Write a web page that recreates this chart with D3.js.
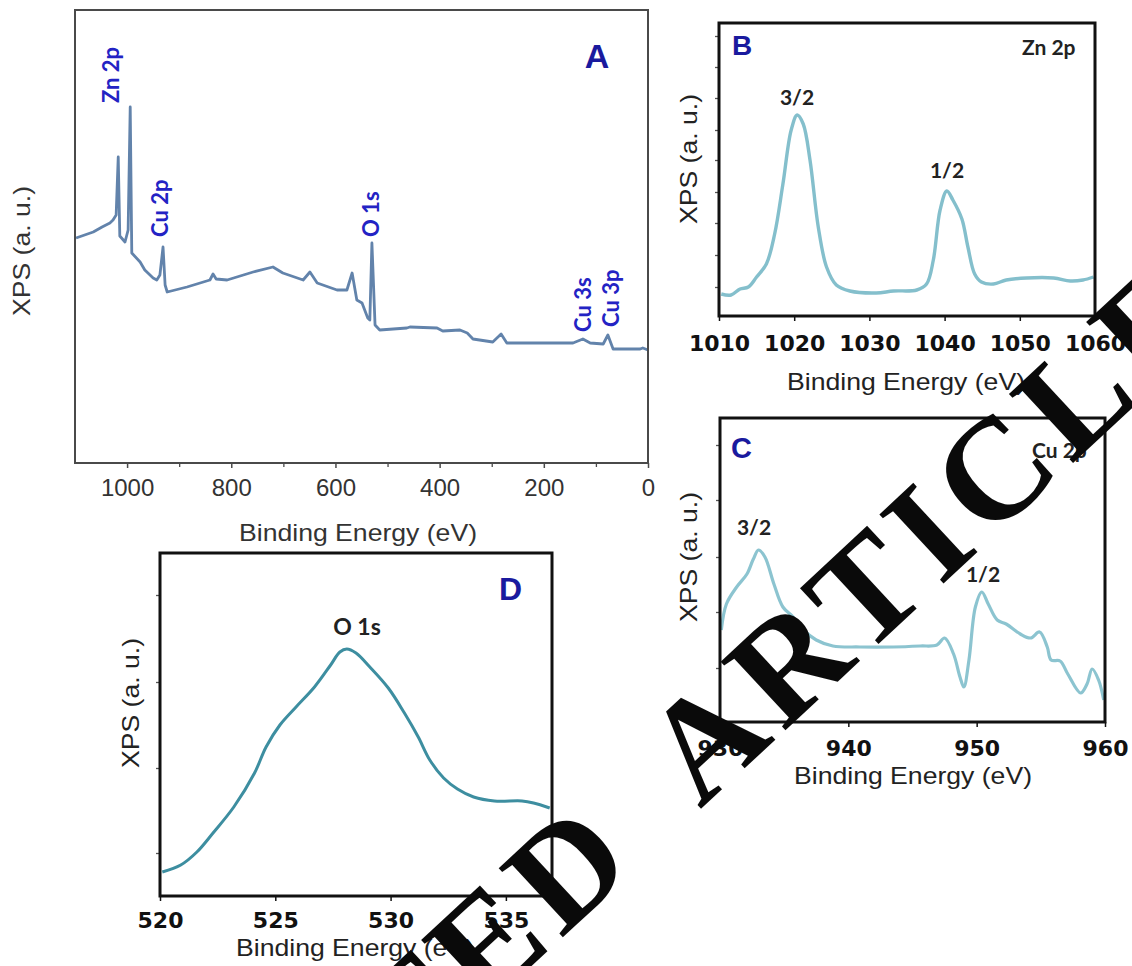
<!DOCTYPE html>
<html><head><meta charset="utf-8">
<script src="https://cdn.jsdelivr.net/npm/d3@7/dist/d3.min.js"></script>
<style>body{margin:0;background:#fff} svg{display:block}</style>
</head><body>
<svg id="chart" width="1132" height="966"></svg>
<script>
// ---------- Panel A : survey spectrum ----------
const aEnergy = [1098,1065,1048,1033,1027,1021,1017,1014,1004,998,994,991,975,966,950,943,937,931,927,923,885,841,835,829,808,758,720,701,662,649,635,597,578,568,559,549,538,534,530,524,515,463,457,405,394,361,347,336,298,282,271,207,144,125,111,86,77,67,15,10,0];
const aIntensity = [225,231,236,240,243,248,306,227,221,233,356,210,201,193,185,183,188,216,178,171,176,183,189,184,183,191,196,190,183,191,180,173,173,190,163,160,145,143,220,138,133,135,136,135,132,133,130,124,121,129,120,120,120,124,120,119,128,114,114,115,113];
const aXTicks = [1000,800,600,400,200,0];
const aXTickLabels = ["1000","800","600","400","200","0"];
const aXMinor = [900,700,500,300,100];
const aXDomain = [1100,0];
const aYDomain = [0,453];
const aPeakLabels = ["Zn 2p","Cu 2p","O 1s","Cu 3s","Cu 3p"];

// ---------- Panel B : Zn 2p ----------
const bEnergy = [1010.3,1011.6,1012.8,1013.9,1015.0,1016.3,1017.4,1018.5,1019.6,1020.4,1021.2,1022.1,1023.2,1024.3,1025.6,1027.4,1030.9,1033.2,1036.3,1037.6,1038.5,1039.4,1040.3,1041.1,1042.3,1043.1,1044.0,1044.9,1046.5,1048.2,1050.9,1054.5,1056.7,1058.4,1059.8];
const bIntensity = [22,21,27,29,39,52,82,132,186,201,192,156,89,49,31,25,23,25,26,32,56,106,125,116,97,69,42,34,32,36,38,38,35,36,39];
const bXTicks = [1010,1020,1030,1040,1050,1060];
const bXTickLabels = ["1010","1020","1030","1040","1050","1060"];
const bXDomain = [1010,1060];
const bYDomain = [0,293];
const bYTicks = [29,61,93,124,156,186,218,249,280];

// ---------- Panel C : Cu 2p ----------
const cEnergy = [930.1,930.5,931.3,932.1,932.6,933.0,933.5,934.2,934.9,935.7,936.5,937.5,938.8,940.9,943.5,945.6,946.9,947.5,948.2,948.7,949.0,949.4,949.9,950.4,950.9,951.6,952.3,953.4,954.2,954.9,955.5,955.8,956.5,957.1,958.1,958.6,959.0,959.5,959.9];
const cIntensity = [92,118,135,148,163,172,165,138,115,105,92,82,76,75,75,76,77,84,68,45,35,62,115,130,118,102,98,88,84,90,75,62,61,48,29,38,53,42,22];
const cXTicks = [930,940,950,960];
const cXTickLabels = ["930","940","950","960"];
const cXDomain = [930,960];
const cYDomain = [0,304];
const cYTicks = [54,110,165,222,277];

// ---------- Panel D : O 1s ----------
const dEnergy = [520.1,520.9,521.6,522.3,523.2,524.1,524.6,525.2,525.9,526.7,527.4,527.8,528.1,528.5,529.1,529.9,530.6,531.2,531.7,532.3,532.9,533.6,534.5,535.7,536.2,536.9];
const dIntensity = [24,31,44,63,89,123,149,171,189,209,231,244,247,243,229,208,183,159,136,118,107,99,95,95,93,88];
const dXTicks = [520,525,530,535];
const dXTickLabels = ["520","525","530","535"];
const dXDomain = [520,537];
const dYDomain = [0,343];
const dYTicks = [43,128,214,301];

const xTitle = "Binding Energy (eV)";
const yTitle = "XPS (a. u.)";
const watermark = "RETRACTED ARTICLE";

const svg = d3.select("#chart");
const defs = svg.append("defs");
const SANS = "'Liberation Sans', Arial, sans-serif";
const BOLDNUM = "'DejaVu Sans', Verdana, sans-serif";
const CAL = "Lato, 'Open Sans', sans-serif";

function panel(p) {
  const g = svg.append("g");
  const x = d3.scaleLinear().domain(p.xDomain).range([p.left, p.left + p.width]);
  const y = d3.scaleLinear().domain(p.yDomain).range([p.top + p.height, p.top]);
  const id = "clip" + p.name;
  defs.append("clipPath").attr("id", id).append("rect")
    .attr("x", p.left).attr("y", p.top).attr("width", p.width).attr("height", p.height);

  const data = p.energy.map((e, i) => [e, p.intensity[i]]);
  g.append("path").datum(data)
    .attr("clip-path", `url(#${id})`)
    .attr("fill", "none").attr("stroke", p.lineColor).attr("stroke-width", p.lineWidth)
    .attr("stroke-linejoin", "round")
    .attr("d", d3.line().x(d => x(d[0])).y(d => y(d[1])).curve(p.curve));

  const xa = g.append("g").attr("transform", `translate(0,${p.top + p.height})`)
    .call(d3.axisBottom(x).tickValues(p.xTicks).tickFormat((d, i) => p.xTickLabels[i])
      .tickSize(5).tickPadding(p.labelGap - 5));
  xa.select(".domain").remove();
  xa.selectAll("line").attr("stroke", p.frameColor).attr("stroke-width", 1.5);
  xa.selectAll("text").attr("font-family", p.tickFont).attr("font-size", p.tickSize)
    .attr("font-weight", p.tickWeight).attr("fill", p.tickColor);
  if (p.xMinor) {
    const xm = g.append("g").attr("transform", `translate(0,${p.top + p.height})`)
      .call(d3.axisBottom(x).tickValues(p.xMinor).tickFormat("").tickSize(4));
    xm.select(".domain").remove();
    xm.selectAll("line").attr("stroke", p.frameColor).attr("stroke-width", 1.3);
  }
  if (p.yTicks) {
    const ya = g.append("g").attr("transform", `translate(${p.left},0)`)
      .call(d3.axisLeft(y).tickValues(p.yTicks).tickFormat("").tickSize(4));
    ya.select(".domain").remove();
    ya.selectAll("line").attr("stroke", "#555").attr("stroke-width", 1.3);
  }
  g.append("rect").attr("x", p.left).attr("y", p.top).attr("width", p.width).attr("height", p.height)
    .attr("fill", "none").attr("stroke", p.frameColor).attr("stroke-width", p.frameWidth);

  g.append("text").text(xTitle).attr("x", p.xTitle[0]).attr("y", p.xTitle[1])
    .attr("text-anchor", "middle").attr("font-family", SANS).attr("font-size", 24)
    .attr("textLength", 238).attr("lengthAdjust", "spacingAndGlyphs").attr("fill", p.titleColor);
  g.append("text").text(yTitle)
    .attr("transform", `translate(${p.yTitle[0]},${p.yTitle[1]}) rotate(-90)`)
    .attr("text-anchor", "middle").attr("font-family", SANS).attr("font-size", 24)
    .attr("textLength", 130).attr("lengthAdjust", "spacingAndGlyphs").attr("fill", p.titleColor);
  return { g, x, y };
}

// Panel A
const A = panel({ name: "A", left: 75, top: 10, width: 573, height: 453,
  xDomain: aXDomain, yDomain: aYDomain, energy: aEnergy, intensity: aIntensity,
  xTicks: aXTicks, xTickLabels: aXTickLabels, xMinor: aXMinor,
  lineColor: "#6283ab", lineWidth: 2.8, curve: d3.curveLinear,
  frameColor: "#4a4a4a", frameWidth: 2, labelGap: 16,
  tickFont: SANS, tickSize: 24, tickWeight: "normal", tickColor: "#333",
  xTitle: [358, 541], yTitle: [30, 251], titleColor: "#333" });
const aLabelPos = [[119,103],[168,237],[379,237],[591,332],[619,327]];
aPeakLabels.forEach((t, i) => {
  A.g.append("text").text(t)
    .attr("transform", `translate(${aLabelPos[i][0]},${aLabelPos[i][1]}) rotate(-90)`)
    .attr("font-family", CAL).attr("font-weight", 700).attr("font-size", 22).attr("fill", "#2323c4");
});
A.g.append("text").text("A").attr("x", 597).attr("y", 68).attr("text-anchor", "middle")
  .attr("font-family", SANS).attr("font-weight", 700).attr("font-size", 34).attr("fill", "#1a1a9e");

// Panel B
const B = panel({ name: "B", left: 719, top: 23, width: 376, height: 293,
  xDomain: bXDomain, yDomain: bYDomain, energy: bEnergy, intensity: bIntensity,
  xTicks: bXTicks, xTickLabels: bXTickLabels, yTicks: bYTicks,
  lineColor: "#84bfcc", lineWidth: 3.4, curve: d3.curveCatmullRom.alpha(0.5),
  frameColor: "#111", frameWidth: 3, labelGap: 19,
  tickFont: BOLDNUM, tickSize: 22, tickWeight: 700, tickColor: "#111",
  xTitle: [906, 390], yTitle: [697, 159], titleColor: "#222" });
B.g.append("text").text("B").attr("x", 732).attr("y", 55)
  .attr("font-family", SANS).attr("font-weight", 700).attr("font-size", 28).attr("fill", "#1a1a9e");
B.g.append("text").text("Zn 2p").attr("x", 1022).attr("y", 55)
  .attr("font-family", CAL).attr("font-weight", 700).attr("font-size", 21).attr("fill", "#222");
B.g.append("text").text("3/2").attr("x", 797).attr("y", 105).attr("text-anchor", "middle")
  .attr("font-family", CAL).attr("font-weight", 700).attr("font-size", 21).attr("fill", "#222");
B.g.append("text").text("1/2").attr("x", 947).attr("y", 178).attr("text-anchor", "middle")
  .attr("font-family", CAL).attr("font-weight", 700).attr("font-size", 21).attr("fill", "#222");

// Panel C
const C = panel({ name: "C", left: 720, top: 418, width: 385, height: 304,
  xDomain: cXDomain, yDomain: cYDomain, energy: cEnergy, intensity: cIntensity,
  xTicks: cXTicks, xTickLabels: cXTickLabels, yTicks: cYTicks,
  lineColor: "#8cc4d0", lineWidth: 3.2, curve: d3.curveCatmullRom.alpha(0.5),
  frameColor: "#111", frameWidth: 3, labelGap: 18,
  tickFont: BOLDNUM, tickSize: 22, tickWeight: 700, tickColor: "#111",
  xTitle: [913, 784], yTitle: [697, 557], titleColor: "#222" });
C.g.append("text").text("C").attr("x", 731).attr("y", 458)
  .attr("font-family", SANS).attr("font-weight", 700).attr("font-size", 29).attr("fill", "#1a1a9e");
C.g.append("text").text("Cu 2p").attr("x", 1032).attr("y", 458)
  .attr("font-family", CAL).attr("font-weight", 700).attr("font-size", 21).attr("fill", "#222");
C.g.append("text").text("3/2").attr("x", 754).attr("y", 535).attr("text-anchor", "middle")
  .attr("font-family", CAL).attr("font-weight", 700).attr("font-size", 21).attr("fill", "#222");
C.g.append("text").text("1/2").attr("x", 983).attr("y", 582).attr("text-anchor", "middle")
  .attr("font-family", CAL).attr("font-weight", 700).attr("font-size", 21).attr("fill", "#222");

// Panel D
const D = panel({ name: "D", left: 160, top: 553, width: 392, height: 343,
  xDomain: dXDomain, yDomain: dYDomain, energy: dEnergy, intensity: dIntensity,
  xTicks: dXTicks, xTickLabels: dXTickLabels, yTicks: dYTicks,
  lineColor: "#3d8ea0", lineWidth: 3, curve: d3.curveCatmullRom.alpha(0.5),
  frameColor: "#111", frameWidth: 3, labelGap: 16,
  tickFont: BOLDNUM, tickSize: 22, tickWeight: 700, tickColor: "#111",
  xTitle: [355, 956], yTitle: [139, 703], titleColor: "#222" });
D.g.append("text").text("D").attr("x", 499).attr("y", 600)
  .attr("font-family", SANS).attr("font-weight", 700).attr("font-size", 32).attr("fill", "#1a1a9e");
D.g.append("text").text("O 1s").attr("x", 357).attr("y", 635).attr("text-anchor", "middle")
  .attr("font-family", CAL).attr("font-weight", 700).attr("font-size", 23).attr("fill", "#222");

// Watermark: fit the line so that two glyph centres land on their places in the picture
const fs = 150;
const wm = svg.append("text").text(watermark)
  .attr("font-family", "'Liberation Serif', 'Times New Roman', serif")
  .attr("font-weight", 700).attr("font-size", fs).attr("fill", "#0a0a0a")
  .attr("letter-spacing", 10).attr("word-spacing", 40);
const node = wm.node();
function centre(k) { const e = node.getExtentOfChar(k); return [e.x + e.width / 2, -0.33 * fs]; }
const p1 = centre(7), p2 = centre(16);
const t1 = [490, 940], t2 = [1155, 322];
const ang = Math.atan2(t2[1] - t1[1], t2[0] - t1[0]);
const s = Math.hypot(t2[0] - t1[0], t2[1] - t1[1]) / (p2[0] - p1[0]);
const c = Math.cos(ang), sn = Math.sin(ang);
const tx = t1[0] - s * (c * p1[0] - sn * p1[1]);
const ty = t1[1] - s * (sn * p1[0] + c * p1[1]);
wm.attr("transform", `translate(${tx},${ty}) rotate(${ang * 180 / Math.PI}) scale(${s})`);
</script>
</body></html>
